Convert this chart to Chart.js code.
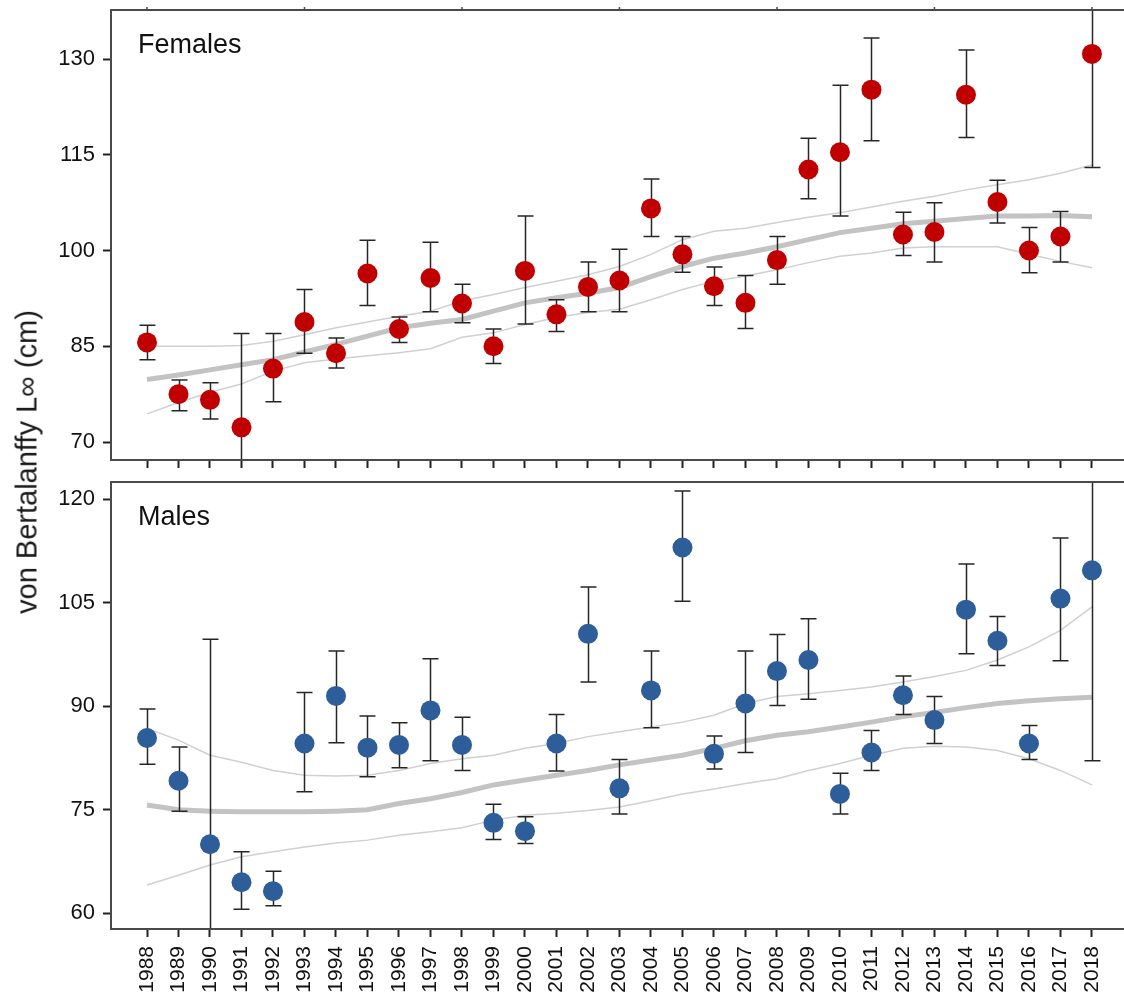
<!DOCTYPE html>
<html><head><meta charset="utf-8">
<script src="https://cdn.jsdelivr.net/npm/chart.js@4.4.1/dist/chart.umd.min.js"></script>
<style>
html,body{margin:0;padding:0;background:#fff;}
#wrap{position:relative;width:1124px;height:999px;overflow:hidden;background:#fff;}
#top{position:absolute;left:0;top:0;width:1124px;height:470px;}
#bot{position:absolute;left:0;top:470px;width:1124px;height:529px;}
#ytitle{position:absolute;left:27px;top:462px;transform:translate(-50%,-50%) rotate(-90deg);font:29px "Liberation Sans",Arial,sans-serif;color:#1a1a1a;white-space:nowrap;}
</style></head>
<body><div id="wrap"><div id="top"><canvas id="c1"></canvas></div><div id="bot"><canvas id="c2"></canvas></div><div id="ytitle">von Bertalanffy L∞ (cm)</div></div>
<script>
const years = [1988,1989,1990,1991,1992,1993,1994,1995,1996,1997,1998,1999,2000,2001,2002,2003,2004,2005,2006,2007,2008,2009,2010,2011,2012,2013,2014,2015,2016,2017,2018];

const femaleMean = [85.6,77.5,76.6,72.3,81.5,88.8,83.9,96.4,87.7,95.7,91.7,85.0,96.8,90.0,94.3,95.3,106.6,99.4,94.4,91.8,98.5,112.7,115.4,125.2,102.5,102.9,124.4,107.6,100.0,102.2,130.8];
const femaleLow  = [82.9,74.9,73.6,57.5,76.3,83.9,81.6,91.4,85.6,90.4,88.7,82.3,88.5,87.3,90.4,90.4,102.2,96.6,91.4,87.8,94.7,108.1,105.4,117.2,99.2,98.2,117.7,104.3,96.5,98.2,113.0];
const femaleHigh = [88.3,79.7,79.3,87.0,87.0,93.9,86.3,101.6,89.6,101.3,94.7,87.7,105.4,92.3,98.2,100.2,111.2,102.2,97.4,96.1,102.2,117.6,125.9,133.3,106.0,107.5,131.4,111.0,103.6,106.1,148.6];
const femaleTrend = [79.8,80.5,81.3,82.1,82.9,84.1,85.3,86.6,87.9,88.6,89.2,90.5,91.8,92.6,93.3,94.2,95.9,97.5,98.8,99.6,100.6,101.7,102.8,103.5,104.2,104.6,105.0,105.4,105.4,105.5,105.3];
const femaleUpper = [85.0,85.0,85.0,85.1,85.8,86.8,87.9,88.8,89.7,90.5,92.1,93.1,94.2,95.2,96.2,97.5,99.4,101.7,103.0,103.5,104.4,105.2,105.9,106.8,107.7,108.5,109.5,110.3,111.1,112.1,113.4];
const femaleLower = [74.4,76.2,77.8,79.1,81.1,82.4,83.0,83.5,84.0,84.6,86.4,87.1,88.4,89.5,90.3,90.8,92.3,93.9,95.2,96.0,97.0,98.1,99.1,99.6,100.4,100.6,100.6,100.6,99.4,98.3,97.3];

const maleMean = [85.4,79.2,70.0,64.5,63.2,84.6,91.5,84.0,84.4,89.4,84.4,73.1,71.9,84.6,100.5,78.1,92.3,113.0,83.1,90.4,95.1,96.7,77.3,83.3,91.6,88.0,104.0,99.5,84.6,105.6,109.7];
const maleLow  = [81.6,74.8,41.0,60.6,61.1,77.6,84.7,79.8,81.1,82.1,80.7,70.7,70.1,80.6,93.5,74.4,86.9,105.2,80.9,83.3,90.1,91.0,74.4,80.7,88.8,84.6,97.6,95.9,82.3,96.6,82.1];
const maleHigh = [89.6,84.1,99.7,68.9,66.1,92.0,98.0,88.6,87.6,96.9,88.4,75.8,74.0,88.8,107.3,82.3,98.0,121.2,85.7,98.0,100.4,102.7,80.3,86.5,94.4,91.4,110.6,103.0,87.2,114.4,137.3];
const maleTrend = [75.7,75.0,74.8,74.7,74.7,74.7,74.8,75.0,75.9,76.6,77.5,78.6,79.3,80.0,80.7,81.5,82.2,82.9,83.9,85.0,85.8,86.3,87.0,87.7,88.5,89.1,89.8,90.4,90.8,91.1,91.3];
const maleUpper = [86.8,85.1,82.9,81.9,80.7,80.0,79.9,80.0,80.7,81.7,82.4,82.9,83.9,84.6,85.6,86.3,87.0,87.7,88.7,90.4,91.4,91.8,92.3,92.8,93.5,94.3,95.2,96.7,98.6,101.0,104.4];
const maleLower = [64.1,65.5,67.0,68.2,68.9,69.6,70.2,70.6,71.3,71.8,72.4,73.5,74.2,74.5,74.9,75.4,76.3,77.3,78.0,78.8,79.5,80.7,81.7,82.9,83.9,84.2,84.1,83.6,82.4,80.7,78.6];

const femaleTicks = [70,85,100,115,130];
const maleTicks = [60,75,90,105,120];
const topTickYears = [1988,1993,1998,2003,2008,2013,2018];
const panelLabels = ['Females','Males'];

const FONT = '"Liberation Sans", Arial, sans-serif';

const errorBars = {
  id: 'errorBars',
  beforeDatasetDraw(chart, args) {
    const ds = chart.data.datasets[args.index];
    if (!ds.errLow) return;
    const {ctx, chartArea: a, scales: {x, y}} = chart;
    ctx.save();
    ctx.beginPath(); ctx.rect(a.left, a.top, a.right - a.left, a.bottom - a.top); ctx.clip();
    ctx.strokeStyle = '#262626'; ctx.lineWidth = 1.5;
    ds.data.forEach((p, i) => {
      const px = Math.round(x.getPixelForValue(p.x)) + 0.5;
      const yl = y.getPixelForValue(ds.errLow[i]);
      const yh = y.getPixelForValue(ds.errHigh[i]);
      ctx.beginPath();
      ctx.moveTo(px, yl); ctx.lineTo(px, yh);
      ctx.moveTo(px - 8, yl); ctx.lineTo(px + 8, yl);
      ctx.moveTo(px - 8, yh); ctx.lineTo(px + 8, yh);
      ctx.stroke();
    });
    ctx.restore();
  }
};

const frame = {
  id: 'frame',
  afterDraw(chart, args, opts) {
    const {ctx, chartArea: a, scales: {x}} = chart;
    const W = chart.width + 2;
    ctx.save();
    ctx.strokeStyle = '#4a4a4a'; ctx.lineWidth = 2;
    ctx.beginPath();
    ctx.moveTo(W, a.top); ctx.lineTo(a.left, a.top); ctx.lineTo(a.left, a.bottom); ctx.lineTo(W, a.bottom);
    ctx.stroke();
    if (opts.topTicks) {
      ctx.lineWidth = 1.5;
      ctx.beginPath();
      topTickYears.forEach(v => { const px = x.getPixelForValue(v); ctx.moveTo(px, a.top); ctx.lineTo(px, a.top - 3); });
      ctx.stroke();
    }
    ctx.fillStyle = '#111';
    ctx.font = '27px ' + FONT;
    ctx.textBaseline = 'alphabetic';
    ctx.fillText(opts.label, 138, opts.baseline);
    ctx.restore();
  }
};

function panel(id, label, baseline, color, mean, low, high, trend, upper, lower, yMin, yMax, yTicks, padTop, xHeight, showX) {
  const pts = arr => years.map((yr, i) => ({x: yr, y: arr[i]}));
  return new Chart(document.getElementById(id), {
    type: 'scatter',
    data: {
      datasets: [
        {type: 'scatter', data: pts(mean), backgroundColor: color, borderWidth: 0, pointRadius: 10, pointHoverRadius: 10, order: 0, errLow: low, errHigh: high},
        {type: 'line', data: pts(trend), borderColor: '#c3c3c3', borderWidth: 5, pointRadius: 0, fill: false, order: 1},
        {type: 'line', data: pts(upper), borderColor: '#d0d0d0', borderWidth: 1.5, pointRadius: 0, fill: false, order: 2},
        {type: 'line', data: pts(lower), borderColor: '#d0d0d0', borderWidth: 1.5, pointRadius: 0, fill: false, order: 2}
      ]
    },
    options: {
      responsive: true, maintainAspectRatio: false, animation: false, devicePixelRatio: 1,
      layout: {padding: {top: padTop, left: 0, right: 0, bottom: 0}},
      plugins: {legend: {display: false}, tooltip: {enabled: false}, frame: {label: label, baseline: baseline, topTicks: !showX}},
      scales: {
        x: {
          type: 'linear', min: 1986.857, max: 2018.70,
          afterBuildTicks: s => { s.ticks = years.map(v => ({value: v})); },
          afterFit: s => { s.height = xHeight; s.paddingLeft = 0; s.paddingRight = 0; },
          ticks: {display: showX, autoSkip: false, minRotation: 90, maxRotation: 90, padding: 9, color: '#111',
                  font: {size: 21, family: FONT}, callback: v => String(v)},
          grid: {drawOnChartArea: false, drawTicks: true, tickLength: 8, tickColor: '#222', tickWidth: 2},
          border: {display: false}
        },
        y: {
          type: 'linear', min: yMin, max: yMax,
          afterBuildTicks: s => { s.ticks = yTicks.map(v => ({value: v})); },
          afterFit: s => { s.width = 111; s.paddingTop = 0; s.paddingBottom = 0; },
          ticks: {padding: 8, color: '#111', font: {size: 22, family: FONT}, callback: v => String(v)},
          grid: {drawOnChartArea: false, drawTicks: true, tickLength: 8, tickColor: '#222', tickWidth: 2},
          border: {display: false}
        }
      }
    },
    plugins: [errorBars, frame]
  });
}

panel('c1', panelLabels[0], 53, '#c00000', femaleMean, femaleLow, femaleHigh, femaleTrend, femaleUpper, femaleLower, 67.18, 137.68, femaleTicks, 10, 10, false);
panel('c2', panelLabels[1], 55, '#2e5e99', maleMean, maleLow, maleHigh, maleTrend, maleUpper, maleLower, 57.72, 122.5, maleTicks, 12, 70, true);
</script>
</body></html>
